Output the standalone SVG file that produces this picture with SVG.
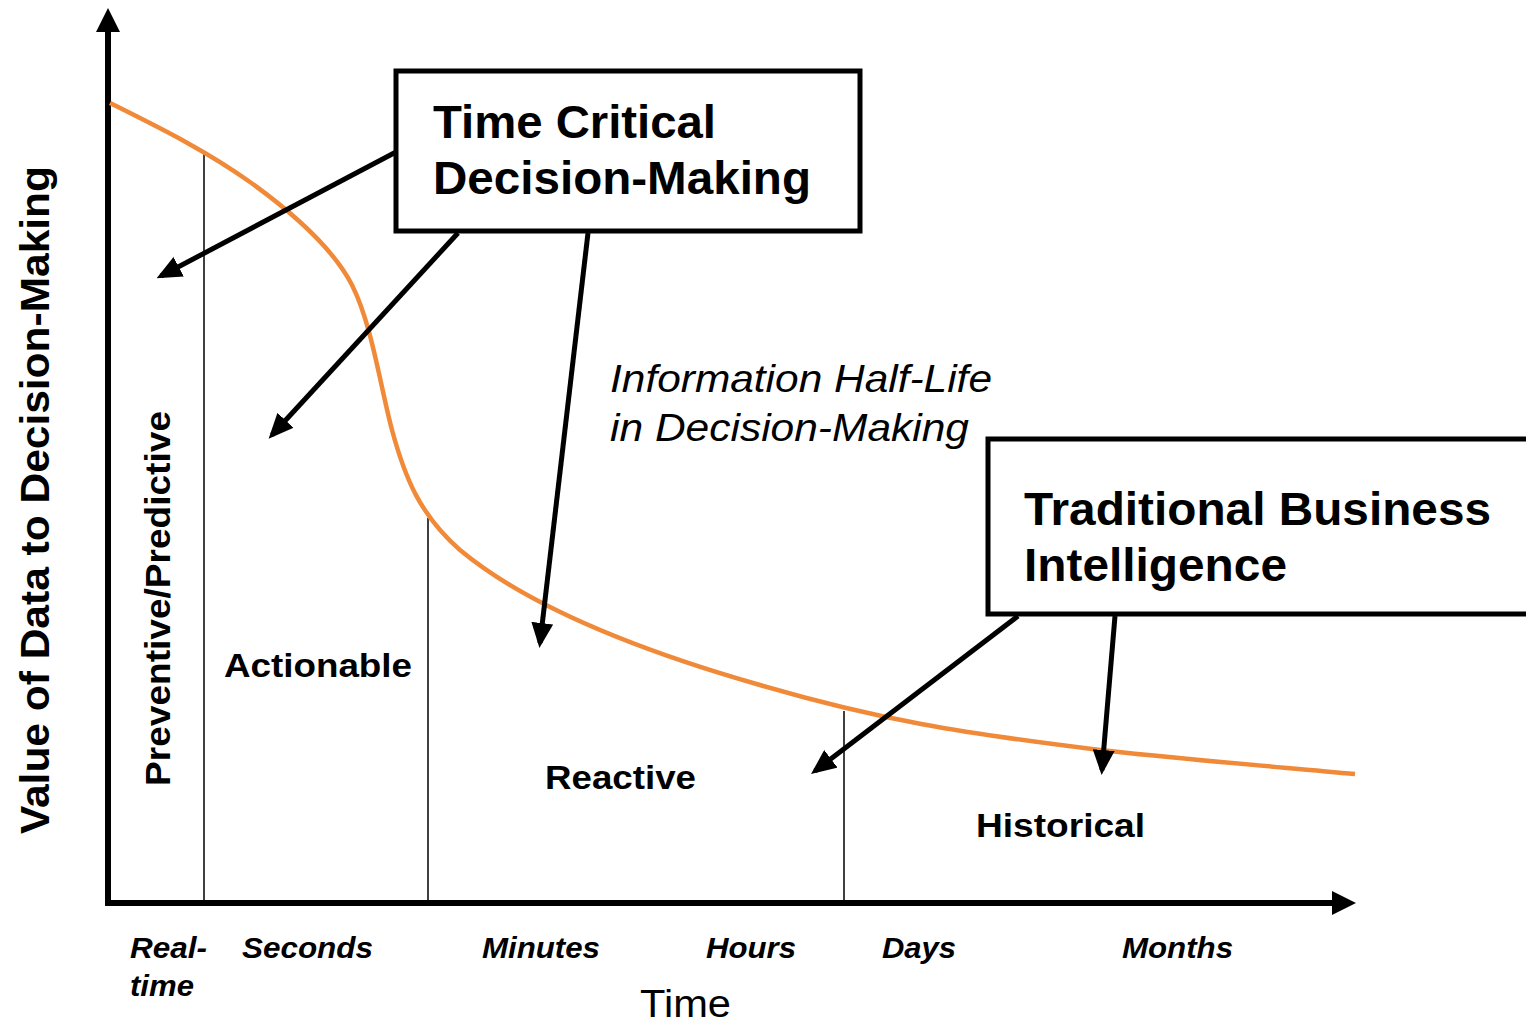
<svg xmlns="http://www.w3.org/2000/svg" width="1526" height="1023" viewBox="0 0 1526 1023">
<style>
.b{font-family:"Liberation Sans",Arial,sans-serif;font-weight:bold;fill:#000}
.box{fill:#fff;stroke:#000;stroke-width:5}
.ax{stroke:#000;stroke-width:6;fill:none}
.thin{stroke:#000;stroke-width:1.5}
.conn{stroke:#000;stroke-width:5;fill:none;marker-end:url(#ah)}
.ti{font-family:"Liberation Sans",Arial,sans-serif;font-weight:bold;font-style:italic;font-size:30px}
.it{font-family:"Liberation Sans",Arial,sans-serif;font-style:italic;font-size:39px}
</style>
<defs>
<marker id="ah" markerWidth="5" markerHeight="4.4" refX="4" refY="2.2" orient="auto" markerUnits="strokeWidth">
<path d="M0,0 L5,2.2 L0,4.4 Z" fill="#000"/>
</marker>
</defs>
<rect width="1526" height="1023" fill="#fff"/>
<g id="axes">
<line class="ax" x1="108" y1="28" x2="108" y2="906"/>
<path d="M96,32 L108,8 L120,32 Z" fill="#000"/>
<line class="ax" x1="105" y1="903" x2="1335" y2="903"/>
<path d="M1332,891 L1356,903 L1332,915 Z" fill="#000"/>
</g>
<g id="dividers">
<line class="thin" x1="204" y1="151" x2="204" y2="900"/>
<line class="thin" x1="428" y1="518" x2="428" y2="900"/>
<line class="thin" x1="844" y1="711" x2="844" y2="900"/>
</g>
<g id="curve">
<path d="M110,103 C160,128 205,150 250,182 C300,218 335,252 352,285 C372,325 380,385 392,430 C405,478 420,515 460,550 C520,600 620,645 760,685 C880,720 960,733 1100,750 C1200,761 1280,767 1355,774" fill="none" stroke="#F08A38" stroke-width="4.5"/>
</g>
<g id="connectors">
<line class="conn" x1="396" y1="152" x2="161" y2="276"/>
<line class="conn" x1="458" y1="233" x2="272" y2="435"/>
<line class="conn" x1="588" y1="233" x2="540" y2="643"/>
<line class="conn" x1="1018" y1="616" x2="815" y2="771"/>
<line class="conn" x1="1115" y1="616" x2="1102" y2="770"/>
</g>
<g id="node-time-critical">
<rect class="box" x="396" y="71" width="464" height="160"/>
<text class="b" font-size="46" x="433" y="138" textLength="283" lengthAdjust="spacingAndGlyphs">Time Critical</text>
<text class="b" font-size="46" x="433" y="194" textLength="378" lengthAdjust="spacingAndGlyphs">Decision-Making</text>
</g>
<g id="node-traditional-bi">
<rect class="box" x="988" y="439" width="545" height="175"/>
<text class="b" font-size="46" x="1024" y="525" textLength="467" lengthAdjust="spacingAndGlyphs">Traditional Business</text>
<text class="b" font-size="46" x="1024" y="581" textLength="263" lengthAdjust="spacingAndGlyphs">Intelligence</text>
</g>
<g id="half-life">
<text class="it" x="610" y="392" textLength="382" lengthAdjust="spacingAndGlyphs">Information Half-Life</text>
<text class="it" x="610" y="441" textLength="359" lengthAdjust="spacingAndGlyphs">in Decision-Making</text>
</g>
<g id="regions">
<text class="b" font-size="34" x="224" y="677" textLength="188" lengthAdjust="spacingAndGlyphs">Actionable</text>
<text class="b" font-size="34" x="545" y="789" textLength="151" lengthAdjust="spacingAndGlyphs">Reactive</text>
<text class="b" font-size="34" x="976" y="837" textLength="169" lengthAdjust="spacingAndGlyphs">Historical</text>
<text class="b" font-size="35" transform="translate(170,786) rotate(-90)" textLength="375" lengthAdjust="spacingAndGlyphs">Preventive/Predictive</text>
<text class="b" font-size="41" transform="translate(49,834) rotate(-90)" textLength="668" lengthAdjust="spacingAndGlyphs">Value of Data to Decision-Making</text>
</g>
<g id="time-labels">
<text class="ti" x="130" y="958" textLength="77" lengthAdjust="spacingAndGlyphs">Real-</text>
<text class="ti" x="130" y="996" textLength="64" lengthAdjust="spacingAndGlyphs">time</text>
<text class="ti" x="242" y="958" textLength="131" lengthAdjust="spacingAndGlyphs">Seconds</text>
<text class="ti" x="482" y="958" textLength="118" lengthAdjust="spacingAndGlyphs">Minutes</text>
<text class="ti" x="706" y="958" textLength="90" lengthAdjust="spacingAndGlyphs">Hours</text>
<text class="ti" x="882" y="958" textLength="74" lengthAdjust="spacingAndGlyphs">Days</text>
<text class="ti" x="1122" y="958" textLength="111" lengthAdjust="spacingAndGlyphs">Months</text>
<text font-family="Liberation Sans,Arial,sans-serif" font-size="39" x="640" y="1017" textLength="91" lengthAdjust="spacingAndGlyphs">Time</text>
</g>
</svg>
